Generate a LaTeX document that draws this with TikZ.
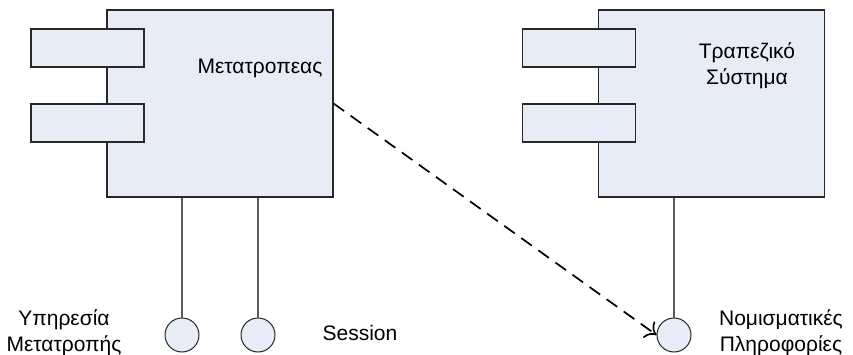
\documentclass[tikz,border=0pt]{standalone}
\usepackage{fontspec}
\setmainfont{Liberation Sans}
\usetikzlibrary{arrows.meta}
\definecolor{compfill}{RGB}{232,236,247}
\definecolor{compline}{RGB}{40,40,40}
\definecolor{stemline}{RGB}{90,90,90}
\tikzset{
  comp/.style={draw=compline, fill=compfill, line width=1.1pt, rectangle, inner sep=0pt},
  body/.style={comp, minimum width=226pt, minimum height=187pt},
  port/.style={comp, minimum width=113pt, minimum height=38pt},
  iface/.style={draw=compline, fill=compfill, line width=1pt, circle, inner sep=0pt, minimum size=34pt},
  stem/.style={draw=stemline, line width=1.1pt},
  lbl/.style={font=\fontsize{21pt}{26pt}\selectfont, align=center, inner sep=0pt, text=black},
  dep/.style={line width=1.7pt, dash pattern=on 13pt off 8pt, -{To[length=10pt,width=20pt]}}
}
\begin{document}
\begin{tikzpicture}[x=1pt,y=-1pt]
  \useasboundingbox (0,0) rectangle (853,355);

  % Converter component
  \node[body] (conv) at (220,103.5) {};
  \node[port] (convp1) at (87.5,48) {};
  \node[port] (convp2) at (87.5,123) {};
  \node[lbl] (convlbl) at (260,68) {Μετατροπεας};

  % Banking system component
  \node[body] (bank) at (711.5,103.5) {};
  \node[port] (bankp1) at (579,48) {};
  \node[port] (bankp2) at (579,123) {};
  \node[lbl] (banklbl) at (747,66) {Τραπεζικό\\Σύστημα};

  % Provided interfaces
  \node[iface] (svc) at (182,335) {};
  \node[iface] (sess) at (258,335) {};
  \node[iface] (curr) at (674,335) {};

  \draw[stem] (conv.south -| svc) -- (svc.north);
  \draw[stem] (conv.south -| sess) -- (sess.north);
  \draw[stem] (bank.south -| curr) -- (curr.north);

  % Interface labels
  \node[lbl] (svclbl) at (64,333) {Υπηρεσία\\Μετατροπής};
  \node[lbl] (sesslbl) at (360,333) {Session};
  \node[lbl] (currlbl) at (781,333) {Νομισματικές\\Πληροφορίες};

  % Dependency of the converter on the currency information
  \draw[dep] (conv.east) -- (curr.west);
\end{tikzpicture}
\end{document}
